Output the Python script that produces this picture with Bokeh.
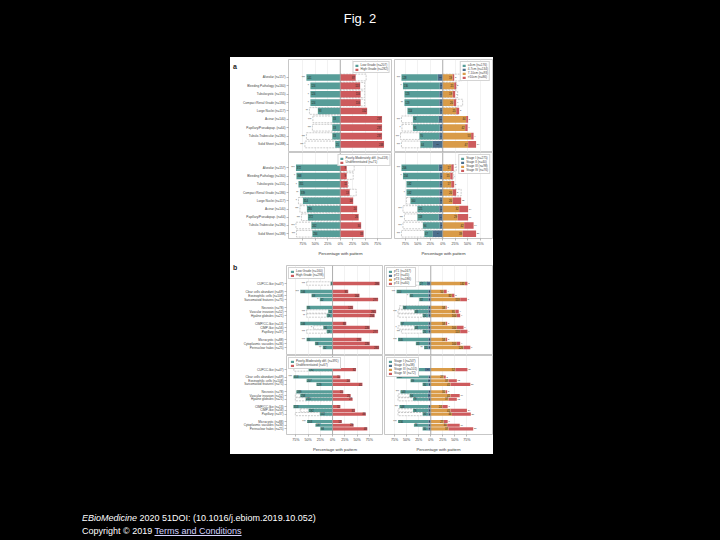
from bokeh.plotting import figure
from bokeh.layouts import column, row
from bokeh.models import (Div, Spacer, Range1d, FixedTicker, Span, Legend, LegendItem,
                          CustomJSTickFormatter)
from bokeh.embed import file_html
from bokeh.resources import INLINE
from bokeh.core.properties import value

FONT = "Liberation Sans"
TEAL = "#579d98"
SLATE = "#4d6f8c"
ORANGE = "#d99b48"
RED = "#cd5b5d"
GHOST = "#9a9a9a"
WHITE_BG = {"background-color": "white"}

# ---------------- data ----------------
x_ticks = [-0.75, -0.5, -0.25, 0, 0.25, 0.5, 0.75]

a_labels = ["Alveolar (n=157)", "Bleeding Pathology (n=160)", "Tubulocystic (n=155)",
            "Compact Renal Grade (n=186)", "Large Nuclei (n=117)", "Acinar (n=140)",
            "Papillary/Pseudopap. (n=64)", "Tubulo-Trabecular (n=180)", "Solid Sheet (n=188)"]
b_labels = ["CUPCC-like (n=47)", "Clear cells abundant (n=69)", "Eosinophilic cells (n=108)",
            "Sarcomatoid features (n=75)", "Necrosis (n=78)", "Vascular invasion (n=52)",
            "Hyaline globules (n=21)", "CIMP/CC-like (n=13)", "CIMP-like (n=56)",
            "Papillary (n=37)", "Microcystic (n=88)", "Cytoplasmic vacuoles (n=36)",
            "Perinuclear halos (n=25)"]
b_groups = [0, 1, 1, 1, 2, 2, 2, 3, 3, 3, 4, 4, 4]

# panel a, top-left: grade
aTL_legend = ["Low Grade (n=207)", "High Grade (n=282)"]
aTL_n = [207, 282]
aTL_low = [0.68, 0.60, 0.60, 0.60, 0.45, 0.16, 0.16, 0.16, 0.10]
aTL_high = [0.31, 0.40, 0.41, 0.41, 0.54, 0.84, 0.84, 0.84, 0.88]
aTL_ghost_low = [0, 0, 0, 0, 0.62, 0.55, 0.56, 0.68, 0.71]
aTL_ghost_high = [0.52, 0.49, 0.49, 0.49, 0, 0, 0, 0, 0]
aTL_sig = ["***", "*", "*", "*", "**", "***", "***", "***", "***"]

# panel a, top-right: size
aTR_legend = ["\u22644cm (n=176)", "4-7cm (n=134)", "7-10cm (n=93)", ">10cm (n=86)"]
aTR_n = [176, 134, 93, 86]
aTR_c1 = [0.73, 0.74, 0.70, 0.70, 0.65, 0.52, 0.54, 0.40, 0.25]
aTR_c2 = [0.10, 0.06, 0.07, 0.07, 0.06, 0.08, 0.06, 0.07, 0.20]
aTR_c3 = [0.20, 0.23, 0.20, 0.22, 0.27, 0.47, 0.45, 0.57, 0.51]
aTR_c4 = [0.03, 0.04, 0.05, 0.05, 0.06, 0.04, 0.05, 0.05, 0.16]
aTR_ghost_neg = [0, 0, 0, 0, 0, 0.83, 0.82, 0.85, 0.83]
aTR_ghost_pos = [0.38, 0.28, 0.30, 0.40, 0.30, 0, 0, 0, 0]
aTR_sig = ["***", "*", "", "**", "", "***", "*", "***", "***"]

# panel a, bottom-left: differentiation
aBL_legend = ["Poorly-Moderately diff. (n=418)", "Undifferentiated (n=71)"]
aBL_n = [418, 71]
aBL_low = [0.89, 0.88, 0.84, 0.81, 0.75, 0.67, 0.65, 0.58, 0.56]
aBL_high = [0.13, 0.13, 0.15, 0.19, 0.26, 0.34, 0.37, 0.42, 0.47]
aBL_ghost_low = [0, 0, 0, 0, 0.84, 0.81, 0.78, 0.89, 0.88]
aBL_ghost_high = [0.28, 0.26, 0.16, 0.32, 0, 0, 0, 0, 0]
aBL_sig = ["***", "*", "*", "**", "*", "***", "***", "***", "***"]

# panel a, bottom-right: stage
aBR_legend = ["Stage I (n=275)", "Stage II (n=40)", "Stage III (n=98)", "Stage IV (n=76)"]
aBR_n = [275, 40, 98, 76]
aBR_c1 = [0.75, 0.74, 0.66, 0.66, 0.58, 0.44, 0.43, 0.34, 0.17]
aBR_c2 = [0.08, 0.06, 0.07, 0.07, 0.07, 0.07, 0.08, 0.06, 0.20]
aBR_c3 = [0.17, 0.15, 0.17, 0.20, 0.20, 0.33, 0.30, 0.43, 0.40]
aBR_c4 = [0.05, 0.05, 0.06, 0.07, 0.17, 0.18, 0.21, 0.19, 0.27]
aBR_ghost_neg = [0, 0, 0, 0, 0.73, 0.80, 0.77, 0.80, 0.83]
aBR_ghost_pos = [0.27, 0.22, 0.20, 0.37, 0, 0, 0, 0, 0]
aBR_sig = ["***", "*", "", "*", "", "***", "***", "***", "***"]

# panel b, top-left: grade
bTL_legend = ["Low Grade (n=160)", "High Grade (n=298)"]
bTL_n = [160, 298]
bTL_low = [0.04, 0.66, 0.43, 0.26, 0.53, 0.09, 0.12, 0.66, 0.19, 0.12, 0.53, 0.36, 0.20]
bTL_high = [0.96, 0.32, 0.55, 0.93, 0.42, 0.89, 0.86, 0.28, 0.76, 0.93, 0.59, 0.76, 0.95]
bTL_ghost_low = [0.53, 0, 0, 0, 0, 0.53, 0.53, 0, 0.39, 0.53, 0, 0, 0]
bTL_ghost_high = [0, 0, 0, 0, 0, 0, 0, 0, 0, 0, 0, 0, 0]
bTL_sig = ["***", "***", "", "*", "", "***", "**", "", "*", "***", "***", "", "**"]

# panel b, top-right: pT
bTR_legend = ["pT1 (n=167)", "pT2 (n=45)", "pT3 (n=186)", "pT4 (n=60)"]
bTR_n = [167, 45, 186, 60]
bTR_c1 = [0.16, 0.66, 0.39, 0.19, 0.53, 0.29, 0.12, 0.58, 0.29, 0.12, 0.63, 0.26, 0.09]
bTR_c2 = [0.08, 0.05, 0.05, 0.05, 0.05, 0.05, 0.05, 0.05, 0.05, 0.05, 0.05, 0.05, 0.05]
bTR_c3 = [0.71, 0.27, 0.44, 0.61, 0.31, 0.51, 0.54, 0.31, 0.54, 0.61, 0.31, 0.54, 0.68]
bTR_c4 = [0.05, 0.06, 0.05, 0.14, 0.02, 0.07, 0.07, 0.03, 0.14, 0.15, 0.03, 0.07, 0.14]
bTR_ghost_neg = [0.65, 0, 0, 0, 0.65, 0.68, 0.68, 0, 0.68, 0.61, 0, 0, 0]
bTR_ghost_pos = [0, 0, 0, 0, 0, 0, 0, 0, 0, 0, 0, 0, 0]
bTR_sig = ["***", "***", "*", "", "", "***", "", "", "*", "***", "***", "", "**"]

# panel b, bottom-left: differentiation
bBL_legend = ["Poorly-Moderately diff. (n=391)", "Undifferentiated (n=67)"]
bBL_n = [391, 67]
bBL_low = [0.49, 0.80, 0.53, 0.33, 0.74, 0.66, 0.55, 0.80, 0.49, 0.26, 0.52, 0.35, 0.25]
bBL_high = [0.48, 0.16, 0.36, 0.61, 0.22, 0.37, 0.41, 0.16, 0.46, 0.68, 0.19, 0.43, 0.71]
bBL_ghost_low = [0.79, 0, 0, 0, 0, 0.76, 0.76, 0, 0.66, 0.76, 0, 0, 0]
bBL_ghost_high = [0, 0, 0, 0, 0, 0, 0, 0, 0, 0, 0, 0, 0]
bBL_sig = ["", "***", "", "", "", "", "", "", "", "", "***", "", ""]

# panel b, bottom-right: stage
bBR_legend = ["Stage I (n=247)", "Stage II (n=38)", "Stage III (n=101)", "Stage IV (n=72)"]
bBR_n = [247, 38, 101, 72]
bBR_c1 = [0.22, 0.66, 0.36, 0.12, 0.58, 0.38, 0.32, 0.60, 0.32, 0.12, 0.63, 0.30, 0.12]
bBR_c2 = [0.12, 0.05, 0.06, 0.05, 0.05, 0.06, 0.05, 0.05, 0.05, 0.05, 0.05, 0.05, 0.05]
bBR_c3 = [0.51, 0.27, 0.37, 0.41, 0.31, 0.41, 0.37, 0.24, 0.41, 0.44, 0.27, 0.34, 0.37]
bBR_c4 = [0.25, 0.04, 0.17, 0.41, 0.03, 0.19, 0.17, 0.11, 0.34, 0.39, 0.08, 0.26, 0.51]
bBR_ghost_neg = [0, 0, 0, 0, 0, 0.68, 0.68, 0, 0.68, 0.68, 0, 0, 0]
bBR_ghost_pos = [0, 0, 0, 0, 0, 0, 0, 0, 0, 0, 0, 0, 0]
bBR_sig = ["", "***", "", "", "***", "", "", "***", "", "", "***", "", ""]

# ---------------- helpers ----------------
ya = list(range(len(a_labels)))
yb = [i + g for i, g in enumerate(b_groups)]


def make_fig(w, h, xr, yr, bl, br, bt, bb, ys, labels, show_x):
    p = figure(width=w, height=h, x_range=Range1d(*xr), y_range=Range1d(*yr),
               output_backend="svg", toolbar_location=None, title=None,
               min_border_left=bl, min_border_right=br, min_border_top=bt,
               min_border_bottom=bb, margin=0)
    p.background_fill_color = "white"
    p.border_fill_color = "white"
    p.outline_line_color = "#b9b9b9"
    p.outline_line_width = 0.8
    p.ygrid.visible = False
    p.xgrid.ticker = FixedTicker(ticks=x_ticks)
    p.xgrid.grid_line_color = "#e9e9e9"
    p.xgrid.grid_line_width = 0.6
    p.xaxis.ticker = FixedTicker(ticks=x_ticks)
    p.xaxis.formatter = CustomJSTickFormatter(
        code="return Math.abs(Math.round(tick*100)) + '%';")
    for ax in (p.xaxis[0], p.yaxis[0]):
        ax.axis_line_color = None
        ax.major_tick_line_color = "#777777"
        ax.major_tick_line_width = 0.5
        ax.major_tick_out = 2
        ax.major_tick_in = 0
        ax.minor_tick_line_color = None
        ax.major_label_standoff = 1
        ax.major_label_text_font = FONT
        ax.major_label_text_color = "#444444"
    p.xaxis.major_label_text_font_size = "3.6px"
    p.yaxis.major_label_text_font_size = "3.1px"
    if show_x:
        p.xaxis.axis_label = "Percentage with pattern"
        p.xaxis.axis_label_text_font_size = "4.2px"
        p.xaxis.axis_label_text_font_style = "normal"
        p.xaxis.axis_label_text_font = FONT
        p.xaxis.axis_label_text_color = "#333333"
        p.xaxis.axis_label_standoff = 2
    else:
        p.xaxis.visible = False
    if labels is not None:
        p.yaxis.ticker = FixedTicker(ticks=ys)
        p.yaxis.major_label_overrides = {y: lab for y, lab in zip(ys, labels)}
    else:
        p.yaxis.visible = False
    p.add_layout(Span(location=0, dimension="height", line_color="#9c9c9c",
                      line_width=0.8))
    return p


def ghosts(p, ys, gneg, gpos, bh):
    gi = [i for i in range(len(ys)) if gneg[i] > 0]
    if gi:
        p.hbar(y=[ys[i] for i in gi], left=[-gneg[i] for i in gi], right=0, height=bh,
               fill_color="white", line_color=GHOST, line_dash="2 1", line_width=0.5)
    gi = [i for i in range(len(ys)) if gpos[i] > 0]
    if gi:
        p.hbar(y=[ys[i] for i in gi], left=0, right=[gpos[i] for i in gi], height=bh,
               fill_color="white", line_color=GHOST, line_dash="2 1", line_width=0.5)


def small_text(p, xs, ys, texts, align, size="2.6px", color="#1e1e1e"):
    p.text(x=xs, y=ys, text=texts, text_font=value(FONT), text_font_size=value(size),
           text_align=align, text_baseline="middle", text_color=color)


def add_legend(p, rends, labels, loc):
    lg = Legend(items=[LegendItem(label=l, renderers=[r]) for l, r in zip(labels, rends)],
                location=loc, label_text_font_size="3.1px", label_text_font=FONT,
                glyph_width=4, glyph_height=3, label_height=3, label_standoff=2,
                padding=1, spacing=0, margin=2, border_line_color="#a9a9a9",
                border_line_width=0.5, background_fill_alpha=1.0)
    p.add_layout(lg)


def add_two(p, ys, neg, pos, gneg, gpos, sig, ns, leg, bh, loc):
    ghosts(p, ys, gneg, gpos, bh)
    r1 = p.hbar(y=ys, left=[-v for v in neg], right=0, height=bh, fill_color=TEAL,
                line_color=None)
    r2 = p.hbar(y=ys, left=0, right=pos, height=bh, fill_color=RED, line_color=None)
    small_text(p, [-v + 0.015 for v in neg], ys, [str(round(v * ns[0])) for v in neg], "left")
    small_text(p, [v - 0.015 for v in pos], ys, [str(round(v * ns[1])) for v in pos], "right")
    small_text(p, [-max(a, b) - 0.03 for a, b in zip(neg, gneg)], ys, sig, "right",
               "2.8px", "#333333")
    add_legend(p, [r1, r2], leg, loc)


def add_four(p, ys, c1, c2, c3, c4, gneg, gpos, sig, ns, leg, bh, loc):
    ghosts(p, ys, gneg, gpos, bh)
    r1 = p.hbar(y=ys, left=[-(a + b) for a, b in zip(c1, c2)], right=[-b for b in c2],
                height=bh, fill_color=TEAL, line_color=None)
    r2 = p.hbar(y=ys, left=[-b for b in c2], right=0, height=bh, fill_color=SLATE,
                line_color=None)
    r3 = p.hbar(y=ys, left=0, right=c3, height=bh, fill_color=ORANGE, line_color=None)
    r4 = p.hbar(y=ys, left=c3, right=[a + b for a, b in zip(c3, c4)], height=bh,
                fill_color=RED, line_color=None)
    small_text(p, [-(a + b) + 0.015 for a, b in zip(c1, c2)], ys,
               [str(round(v * ns[0])) for v in c1], "left")
    small_text(p, [-b / 2 for b in c2], ys, [str(round(v * ns[1])) for v in c2], "center",
               "2.2px")
    small_text(p, [v - 0.015 for v in c3], ys, [str(round(v * ns[2])) for v in c3], "right")
    small_text(p, [a + b + 0.015 for a, b in zip(c3, c4)], ys,
               [str(round(v * ns[3])) for v in c4], "left", "2.2px")
    small_text(p, [-max(a + b, g) - 0.03 for a, b, g in zip(c1, c2, gneg)], ys, sig,
               "right", "2.8px", "#333333")
    add_legend(p, [r1, r2, r3, r4], leg, loc)


def panel_letter(letter, height, pad_top):
    return Div(
        text='<div style="font-family:\'Liberation Sans\',Arial,sans-serif;font-size:7px;'
             'font-weight:bold;line-height:8px;color:#222222;padding-left:3px;'
             'padding-top:%dpx">%s</div>' % (pad_top, letter),
        width=10, height=height, margin=0, styles=WHITE_BG)


# ---------------- figures ----------------
A_L = (-1.04, 1.05)
A_R = (-0.97, 1.00)
B_L = (-0.94, 1.04)
B_R = (-0.96, 1.28)
A_TOP_Y = (8.96, -2.15)
A_BOT_Y = (8.58, -1.86)
B_TOP_Y = (18.0, -4.5)
B_BOT_Y = (17.5, -3.8)

aTL = make_fig(152, 95, A_L, A_TOP_Y, 45, 0, 2, 0, ya, a_labels, False)
add_two(aTL, ya, aTL_low, aTL_high, aTL_ghost_low, aTL_ghost_high, aTL_sig, aTL_n,
        aTL_legend, 0.8, "top_right")

aTR = make_fig(101, 95, A_R, A_TOP_Y, 2, 1, 2, 0, ya, None, False)
add_four(aTR, ya, aTR_c1, aTR_c2, aTR_c3, aTR_c4, aTR_ghost_neg, aTR_ghost_pos, aTR_sig,
         aTR_n, aTR_legend, 0.8, "top_right")

aBL = make_fig(152, 106, A_L, A_BOT_Y, 45, 0, 0, 16, ya, a_labels, True)
add_two(aBL, ya, aBL_low, aBL_high, aBL_ghost_low, aBL_ghost_high, aBL_sig, aBL_n,
        aBL_legend, 0.8, "top_right")

aBR = make_fig(101, 106, A_R, A_BOT_Y, 2, 1, 0, 16, ya, None, True)
add_four(aBR, ya, aBR_c1, aBR_c2, aBR_c3, aBR_c4, aBR_ghost_neg, aBR_ghost_pos, aBR_sig,
         aBR_n, aBR_legend, 0.8, "top_right")

bTL = make_fig(143, 97, B_L, B_TOP_Y, 46, 0, 7, 0, yb, b_labels, False)
add_two(bTL, yb, bTL_low, bTL_high, bTL_ghost_low, bTL_ghost_high, bTL_sig, bTL_n,
        bTL_legend, 0.85, "top_left")

bTR = make_fig(110, 97, B_R, B_TOP_Y, 1, 1, 7, 0, yb, None, False)
add_four(bTR, yb, bTR_c1, bTR_c2, bTR_c3, bTR_c4, bTR_ghost_neg, bTR_ghost_pos, bTR_sig,
         bTR_n, bTR_legend, 0.85, "top_left")

bBL = make_fig(143, 99, B_L, B_BOT_Y, 46, 0, 0, 15, yb, b_labels, True)
add_two(bBL, yb, bBL_low, bBL_high, bBL_ghost_low, bBL_ghost_high, bBL_sig, bBL_n,
        bBL_legend, 0.85, "top_left")

bBR = make_fig(110, 99, B_R, B_BOT_Y, 1, 1, 0, 15, yb, None, True)
add_four(bBR, yb, bBR_c1, bBR_c2, bBR_c3, bBR_c4, bBR_ghost_neg, bBR_ghost_pos, bBR_sig,
         bBR_n, bBR_legend, 0.85, "top_left")


def wrow(*kids):
    return row(*kids, margin=0, spacing=0, styles=WHITE_BG)


def wcol(*kids):
    return column(*kids, margin=0, spacing=0, styles=WHITE_BG)


panel_a = wrow(panel_letter("a", 201, 5), wcol(wrow(aTL, aTR), wrow(aBL, aBR)))
panel_b = wrow(panel_letter("b", 196, 6), wcol(wrow(bTL, bTR), wrow(bBL, bBR)))
inner = wcol(panel_a, panel_b)

title_div = Div(
    text='<div style="width:720px;text-align:center;color:#ffffff;font-family:'
         '\'Liberation Sans\',Arial,sans-serif;font-size:13px;line-height:15px;'
         'padding-top:11px">Fig. 2</div>',
    width=720, height=57, margin=0)

footer_div = Div(
    text='<div style="color:#ffffff;font-family:\'Liberation Sans\',Arial,sans-serif;'
         'font-size:9px;line-height:13px;white-space:nowrap;padding-top:1px">'
         '<i>EBioMedicine</i> 2020 51DOI: (10.1016/j.ebiom.2019.10.052)<br>'
         'Copyright \u00a9 2019 <u style="color:#d4d4ff">Terms and Conditions</u></div>',
    width=400, height=29, margin=0)

page = column(
    title_div,
    row(Spacer(width=230, height=397, margin=0), inner, Spacer(width=227, height=397, margin=0),
        margin=0, spacing=0),
    Spacer(width=720, height=57, margin=0),
    row(Spacer(width=82, height=29, margin=0), footer_div, margin=0, spacing=0),
    margin=0, spacing=0,
)

html = file_html(page, INLINE, title="Fig. 2")
html = html.replace(
    "<head>",
    "<head><style>html,body{background:#000000;margin:0;padding:0;overflow:hidden;}</style>", 1)
open("out.html", "w").write(html)
